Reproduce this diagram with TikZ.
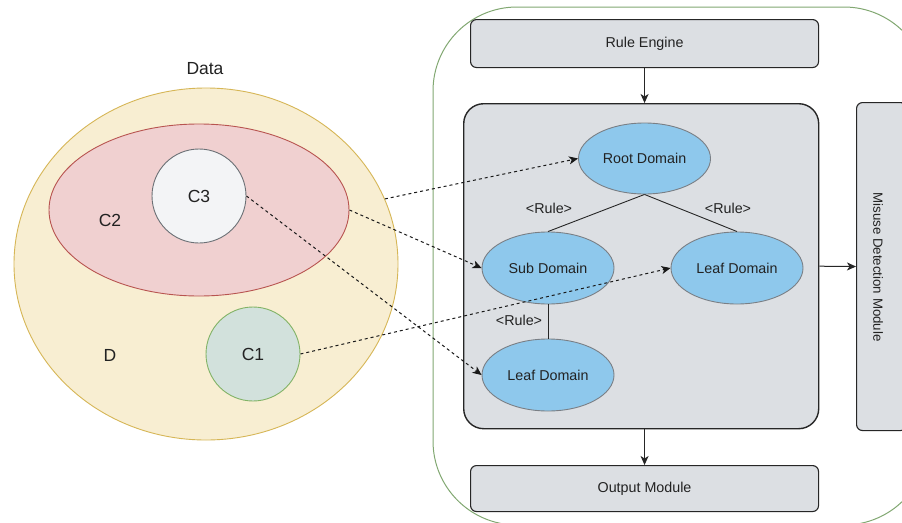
\documentclass[tikz,border=0pt]{standalone}
\usepackage{fontspec}
\setmainfont{Liberation Sans}
\usetikzlibrary{arrows.meta,shapes.geometric}

\definecolor{dsetfill}{HTML}{F8EED2}
\definecolor{dsetline}{HTML}{D6B656}
\definecolor{ctwofill}{HTML}{F0D0D0}
\definecolor{ctwoline}{HTML}{B85450}
\definecolor{cthreefill}{HTML}{F3F4F6}
\definecolor{cthreeline}{HTML}{6B7075}
\definecolor{conefill}{HTML}{D2E1DC}
\definecolor{coneline}{HTML}{82B366}
\definecolor{domfill}{HTML}{8EC8EC}
\definecolor{domline}{HTML}{7A7F85}
\definecolor{panelfill}{HTML}{DCDFE3}
\definecolor{txt}{HTML}{222222}
\definecolor{frame}{HTML}{82A872}

\tikzset{
  lbl/.style={text=txt, font=\fontsize{14.3}{16}\selectfont},
  biglbl/.style={text=txt, font=\fontsize{17.5}{20}\selectfont},
  module/.style={draw=black!85, line width=1.1pt, fill=panelfill, rounded corners=6pt,
                 inner sep=0pt, anchor=north west, lbl},
  domnode/.style={ellipse, draw=domline, line width=0.9pt, fill=domfill, inner sep=0pt,
                 minimum width=132pt, minimum height=72pt, lbl},
  tree/.style={draw=black!85, line width=0.9pt},
  flow/.style={draw=black!85, line width=1pt, -{Stealth[length=9pt,width=8pt,inset=2.5pt]}},
  link/.style={draw=black!90, line width=1pt, dash pattern=on 3pt off 3pt,
               -{Stealth[length=9pt,width=8pt,inset=2.5pt]}},
}

\begin{document}
\begin{tikzpicture}[x=1pt,y=-1pt]
\clip (0,0) rectangle (902,522);
\fill[white] (0,0) rectangle (902,522);

% outer system frame
\draw[frame, line width=1pt, rounded corners=84pt] (433,7) rectangle (928,525);

% data sets
\node (data) [biglbl] at (205,69) {Data};
\node (D) [ellipse, draw=dsetline, line width=0.9pt, fill=dsetfill, inner sep=0pt,
           minimum width=384pt, minimum height=352pt] at (206,264) {};
\node (C2) [ellipse, draw=ctwoline, line width=0.9pt, fill=ctwofill, inner sep=0pt,
            minimum width=300pt, minimum height=172pt] at (199,210) {};
\node (C3) [circle, draw=cthreeline, line width=0.9pt, fill=cthreefill, inner sep=0pt,
            minimum size=94pt, biglbl] at (199,196) {C3};
\node (C1) [circle, draw=coneline, line width=0.9pt, fill=conefill, inner sep=0pt,
            minimum size=94pt, biglbl] at (253,354) {C1};
\node (c2lbl) [biglbl] at (110,220) {C2};
\node (dlbl) [biglbl] at (110,355) {D};

% modules
\node (engine) [module, minimum width=348pt, minimum height=48pt] at (470,19) {Rule Engine};
\node (panel) [module, rounded corners=20pt, line width=1.4pt,
               minimum width=355pt, minimum height=325pt] at (463,103) {};
\node (output) [module, minimum width=348pt, minimum height=46pt] at (470,465) {Output Module};
\node (misuse) [module, minimum width=50pt, minimum height=328pt] at (856,102) {};
\node (misuselbl) [text=txt, font=\fontsize{13.3}{15}\selectfont, rotate=-90] at (878,267)
      {Misuse Detection Module};

% domain hierarchy
\node (root) [domnode, minimum height=71pt] at (644.5,158.5) {Root Domain};
\node (sub) [domnode] at (548,268) {Sub Domain};
\node (leafR) [domnode] at (737,268) {Leaf Domain};
\node (leafB) [domnode] at (548,375) {Leaf Domain};

\draw[tree] (root.south) -- (sub.north);
\draw[tree] (root.south) -- (leafR.north);
\draw[tree] (sub.south) -- (leafB.north);
\node (r1) [lbl] at (549,208) {<Rule>};
\node (r2) [lbl] at (728,208) {<Rule>};
\node (r3) [lbl] at (519,320) {<Rule>};

% module flow
\draw[flow] (engine.south) -- (engine.south |- panel.north);
\draw[flow] (output.north |- panel.south) -- (output.north);
\draw[flow] (panel.east) -- (misuse.west);

% data mapped onto domains
\draw[link] (D.20) -- (root.west);
\draw[link] (C2.east) -- (sub.west);
\draw[link] (C3.east) -- (leafB.west);
\draw[link] (C1.east) -- (leafR.west);
\end{tikzpicture}
\end{document}
